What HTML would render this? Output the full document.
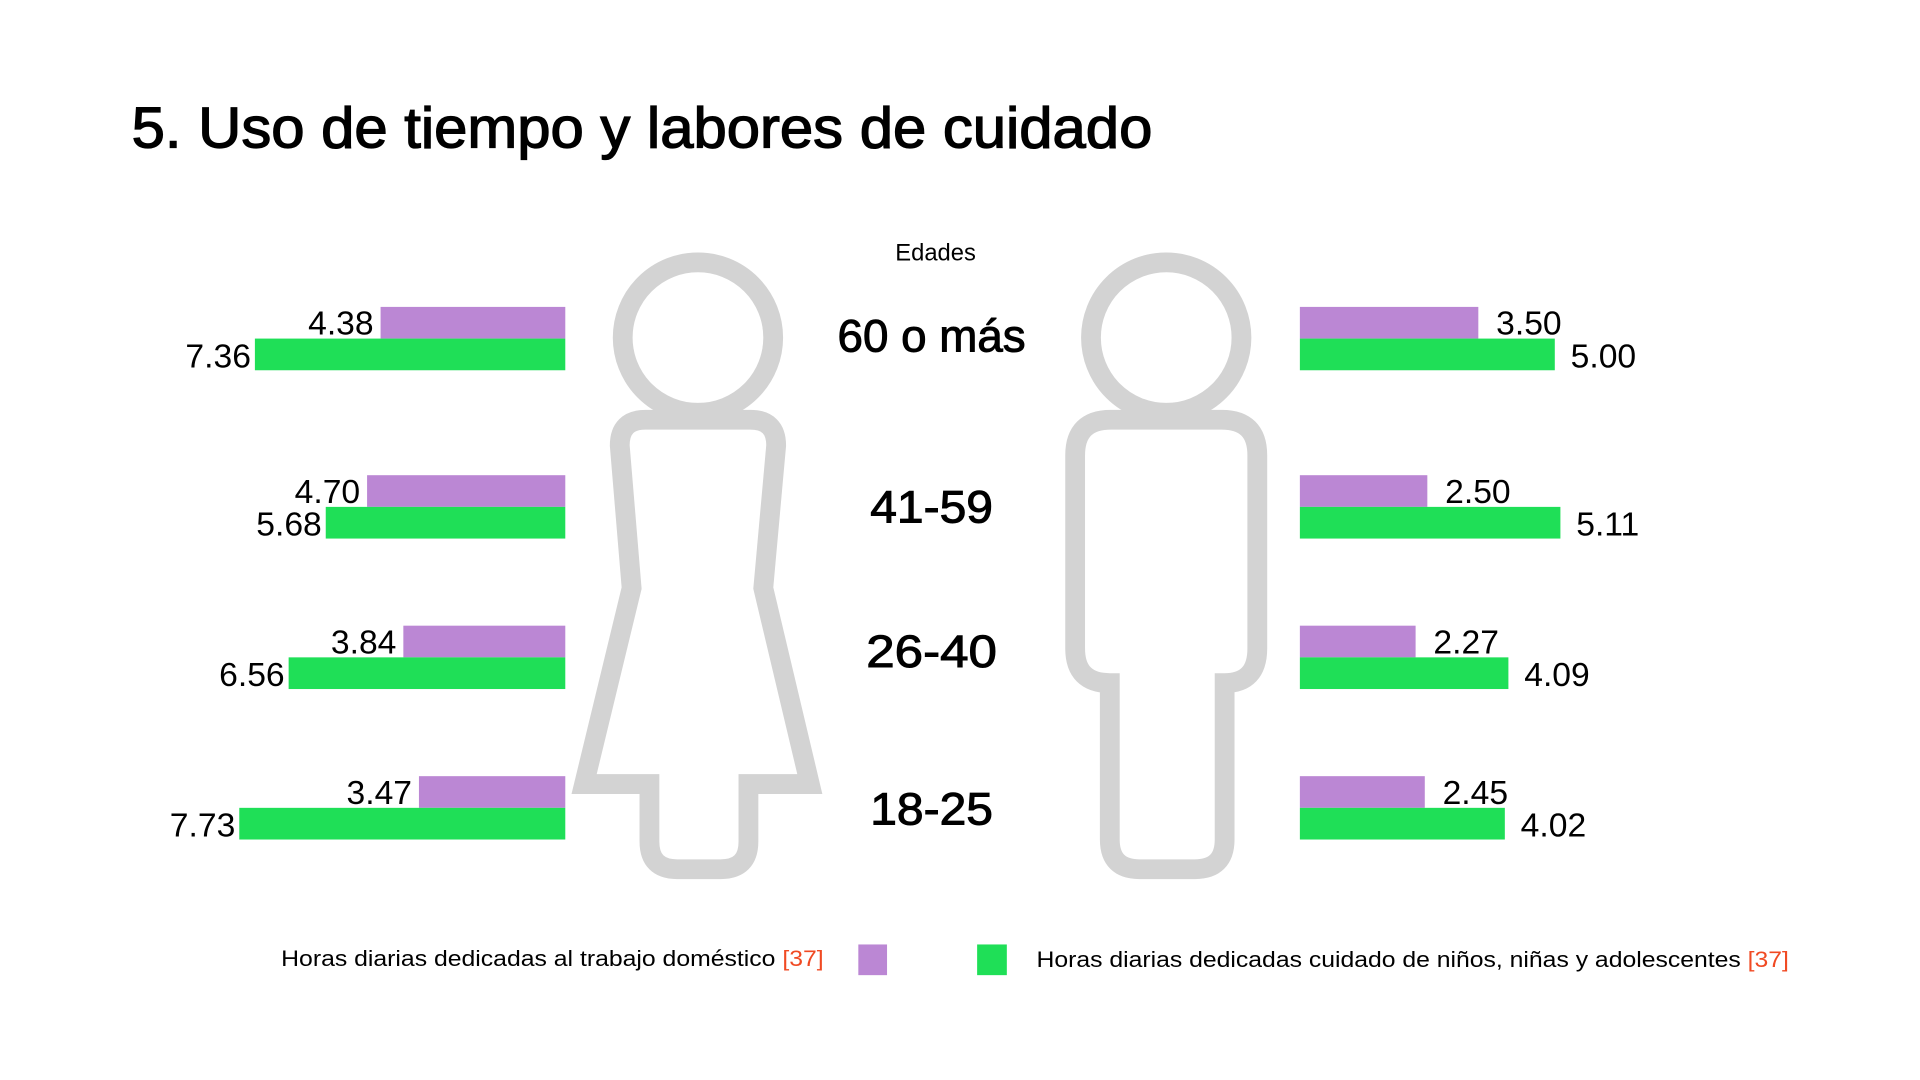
<!DOCTYPE html>
<html><head><meta charset="utf-8"><style>
html,body{margin:0;padding:0;background:#fff;}
svg{display:block;font-family:"Liberation Sans",sans-serif;}
</style></head><body>
<svg id="chart" width="1920" height="1080" viewBox="0 0 1920 1080">
<g transform="scale(0.99)">
<text x="133" y="149" font-size="58" stroke="#000" stroke-width="1.3" textLength="1031" lengthAdjust="spacingAndGlyphs" fill="#000">5. Uso de tiempo y  labores de cuidado</text>
<text x="945" y="263" font-size="24" text-anchor="middle" fill="#000">Edades</text>
<g fill="none" stroke="#d3d3d3" stroke-width="20" stroke-linejoin="miter">
<ellipse cx="705" cy="341" rx="76" ry="76"/>
<path d="M638 594 L626 450 Q626 424 652 424 L758 424 Q784 424 784 450 L771 594 L818 792 L756 792 L756 850 Q756 878 728 878 L684 878 Q656 878 656 850 L656 792 L590 792 Z"/>
</g>
<g fill="none" stroke="#d3d3d3" stroke-width="20">
<ellipse cx="1178" cy="341" rx="76" ry="76"/>
<path d="M1086 460 Q1086 424 1122 424 L1234 424 Q1270 424 1270 460 L1270 655 Q1270 690 1237 690 L1237 848 Q1237 878 1207 878 L1151 878 Q1121 878 1121 848 L1121 690 Q1086 690 1086 655 Z"/>
</g>
<g id="bars"></g>
<g>
<text x="284" y="976" font-size="22" textLength="548" lengthAdjust="spacingAndGlyphs">Horas diarias dedicadas al trabajo doméstico <tspan fill="#f04a23">[37]</tspan></text>
<rect x="867" y="954" width="29" height="31" fill="#bb87d4"/>
<rect x="987" y="954" width="30" height="31" fill="#1fdf57"/>
<text x="1047" y="977" font-size="22" textLength="760" lengthAdjust="spacingAndGlyphs">Horas diarias dedicadas cuidado de niños, niñas y adolescentes <tspan fill="#f04a23">[37]</tspan></text>
</g>
</g>
</svg>
<script>
const ageGroups = ["60 o más","41-59","26-40","18-25"];
const womenDomestic = [4.38,4.70,3.84,3.47];
const womenCare = [7.36,5.68,6.56,7.73];
const menDomestic = [3.50,2.50,2.27,2.45];
const menCare = [5.00,5.11,4.09,4.02];
const womenDomesticLabels = ["4.38","4.70","3.84","3.47"];
const womenCareLabels = ["7.36","5.68","6.56","7.73"];
const menDomesticLabels = ["3.50","2.50","2.27","2.45"];
const menCareLabels = ["5.00","5.11","4.09","4.02"];

const NS="http://www.w3.org/2000/svg";
const g=document.getElementById('bars');
const rowTop=[310,480,632,784];
const ageBase=[355,528,674,833];
const ageLen=[190,124,132,124];
const barH=32;
const leftEdge=571, rightEdge=1313;
const xLeft=v=>v*42.6;
const xRight=v=>v*51.5;
function mk(tag,attrs){const e=document.createElementNS(NS,tag);for(const k in attrs)e.setAttribute(k,attrs[k]);g.appendChild(e);return e;}
ageGroups.forEach((a,i)=>{
  const t=mk('text',{x:941,y:ageBase[i],'font-size':46,'text-anchor':'middle',stroke:'#000','stroke-width':1,textLength:ageLen[i],lengthAdjust:'spacingAndGlyphs'});
  t.textContent=a;
  
  
  const y1=rowTop[i], y2=rowTop[i]+barH;
  let w=xLeft(womenDomestic[i]);
  let r=mk('rect',{x:leftEdge-w,y:y1,width:w,height:barH,fill:'#bb87d4'});
  
  
  let l=mk('text',{x:leftEdge-w-7,y:y1+barH-4,'font-size':34,'text-anchor':'end'});
  l.textContent=womenDomesticLabels[i];
  
  
  w=xLeft(womenCare[i]);
  r=mk('rect',{x:leftEdge-w,y:y2,width:w,height:barH,fill:'#1fdf57'});
  
  
  l=mk('text',{x:leftEdge-w-4,y:y2+barH-3,'font-size':34,'text-anchor':'end'});
  l.textContent=womenCareLabels[i];
  
  
  w=xRight(menDomestic[i]);
  r=mk('rect',{x:rightEdge,y:y1,width:w,height:barH,fill:'#bb87d4'});
  
  
  l=mk('text',{x:rightEdge+w+18,y:y1+barH-4,'font-size':34});
  l.textContent=menDomesticLabels[i];
  
  
  w=xRight(menCare[i]);
  r=mk('rect',{x:rightEdge,y:y2,width:w,height:barH,fill:'#1fdf57'});
  
  
  l=mk('text',{x:rightEdge+w+16,y:y2+barH-3,'font-size':34});
  l.textContent=menCareLabels[i];
  
  
});
</script>
</body></html>
